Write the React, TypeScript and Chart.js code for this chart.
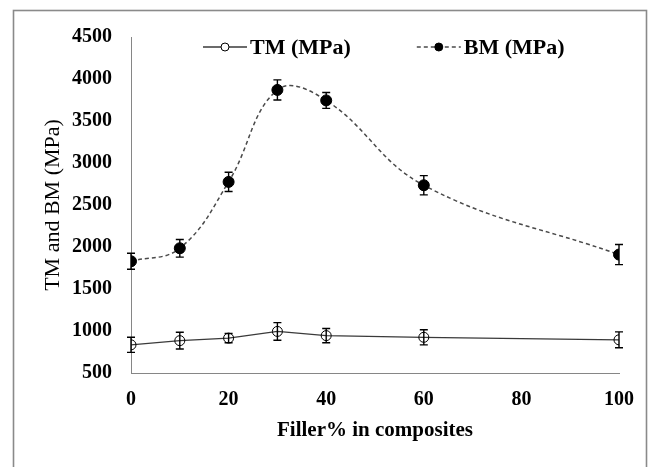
import { useEffect, useRef } from "react";
import { Chart, registerables } from "chart.js";

Chart.register(...registerables);

// ---- data ----
const fillerPct = [0, 10, 20, 30, 40, 60, 100];
const tmValues = [835, 885, 915, 995, 945, 925, 895];
const tmErrors = [90, 100, 55, 105, 85, 90, 95];
const bmValues = [1830, 1985, 2775, 3870, 3745, 2735, 1910];
const bmErrors = [95, 105, 115, 120, 95, 115, 120];
const seriesLabels = ["TM (MPa)", "BM (MPa)"];
const xTitle = "Filler% in composites";
const yTitle = "TM and BM (MPa)";
const xTicks = { min: 0, max: 100, step: 20 };
const yTicks = { min: 500, max: 4500, step: 500 };

const FONT = "'Liberation Serif', 'Times New Roman', serif";
const W = 649;
const H = 467;

const errorBarPlugin = {
  id: "errorBars",
  afterDatasetsDraw(chart: any) {
    const ctx = chart.ctx;
    const yScale = chart.scales.y;
    chart.data.datasets.forEach((ds: any, di: number) => {
      const meta = chart.getDatasetMeta(di);
      const errs: number[] = ds.errors || [];
      ctx.save();
      ctx.strokeStyle = "#000";
      ctx.lineWidth = 1.4;
      ctx.setLineDash([]);
      meta.data.forEach((pt: any, i: number) => {
        const v = ds.data[i].y;
        const e = errs[i] || 0;
        const x = pt.x;
        const yTop = yScale.getPixelForValue(v + e);
        const yBot = yScale.getPixelForValue(v - e);
        ctx.beginPath();
        ctx.moveTo(x, yTop);
        ctx.lineTo(x, yBot);
        ctx.moveTo(x - 4, yTop);
        ctx.lineTo(x + 4, yTop);
        ctx.moveTo(x - 4, yBot);
        ctx.lineTo(x + 4, yBot);
        ctx.stroke();
      });
      ctx.restore();
    });
  },
};

const frameAndLegendPlugin = {
  id: "frameLegend",
  beforeDraw(chart: any) {
    const ctx = chart.ctx;
    ctx.save();
    ctx.fillStyle = "#fff";
    ctx.fillRect(0, 0, chart.width, chart.height);
    ctx.strokeStyle = "#8a8a8a";
    ctx.lineWidth = 1.6;
    ctx.strokeRect(13.5, 10.5, 633, 480);
    ctx.restore();
  },
  afterDraw(chart: any) {
    const ctx = chart.ctx;
    ctx.save();
    const legendY = 47;
    let x = 203;
    const symW = 44;
    ctx.font = `bold 22px ${FONT}`;
    ctx.textBaseline = "middle";
    ctx.textAlign = "left";
    chart.data.datasets.forEach((ds: any) => {
      ctx.strokeStyle = ds.borderColor;
      ctx.lineWidth = ds.borderWidth;
      ctx.setLineDash(ds.borderDash || []);
      ctx.beginPath();
      ctx.moveTo(x, legendY);
      ctx.lineTo(x + symW, legendY);
      ctx.stroke();
      ctx.setLineDash([]);
      ctx.beginPath();
      ctx.arc(x + symW / 2, legendY, 4, 0, Math.PI * 2);
      ctx.fillStyle = ds.pointBackgroundColor === "transparent" ? "#fff" : ds.pointBackgroundColor;
      ctx.fill();
      ctx.strokeStyle = "#000";
      ctx.lineWidth = 1;
      ctx.stroke();
      ctx.fillStyle = "#000";
      const tx = x + symW + 3;
      ctx.fillText(ds.label, tx, legendY + 1);
      x = tx + ctx.measureText(ds.label).width + 66;
    });
    ctx.restore();
  },
};

export default function App() {
  const canvasRef = useRef<HTMLCanvasElement | null>(null);

  useEffect(() => {
    if (!canvasRef.current) return;
    const chart = new Chart(canvasRef.current, {
      type: "line",
      data: {
        datasets: [
          {
            label: seriesLabels[0],
            data: fillerPct.map((x, i) => ({ x, y: tmValues[i] })),
            errors: tmErrors,
            borderColor: "#3a3a3a",
            borderWidth: 1.3,
            pointRadius: 5,
            pointBackgroundColor: "transparent",
            pointBorderColor: "#000",
            pointBorderWidth: 1,
            tension: 0,
          } as any,
          {
            label: seriesLabels[1],
            data: fillerPct.map((x, i) => ({ x, y: bmValues[i] })),
            errors: bmErrors,
            borderColor: "#4a4a4a",
            borderWidth: 1.5,
            borderDash: [4, 3],
            pointRadius: 5.5,
            pointBackgroundColor: "#000",
            pointBorderColor: "#000",
            pointBorderWidth: 1,
            tension: 0.4,
          } as any,
        ],
      },
      options: {
        animation: false,
        responsive: false,
        devicePixelRatio: 1,
        layout: { padding: { left: 0, right: 28, top: 37, bottom: 0 } },
        plugins: {
          legend: { display: false },
          tooltip: { enabled: false },
        },
        scales: {
          x: {
            type: "linear",
            min: xTicks.min,
            max: xTicks.max,
            afterFit: (s: any) => {
              s.height = 94;
            },
            ticks: {
              stepSize: xTicks.step,
              padding: 15,
              color: "#000",
              font: { family: FONT, size: 20, weight: "bold" },
              maxRotation: 0,
              callback: (v: any) => String(v),
            },
            grid: { display: false, drawTicks: false },
            border: { display: true, color: "#868686", width: 1 },
            title: {
              display: true,
              text: xTitle,
              color: "#000",
              font: { family: FONT, size: 21, weight: "bold" },
              padding: { top: 0, bottom: 24 },
            },
          },
          y: {
            type: "linear",
            min: yTicks.min,
            max: yTicks.max,
            afterFit: (s: any) => {
              s.width = 131;
            },
            ticks: {
              stepSize: yTicks.step,
              padding: 19,
              color: "#000",
              font: { family: FONT, size: 20, weight: "bold" },
              callback: (v: any) => String(v),
            },
            grid: { display: false, drawTicks: false },
            border: { display: true, color: "#868686", width: 1 },
            title: {
              display: true,
              text: yTitle,
              color: "#000",
              font: { family: FONT, size: 22, weight: "normal" },
              padding: { top: 40, bottom: 0 },
            },
          },
        },
      } as any,
      plugins: [frameAndLegendPlugin, errorBarPlugin],
    });
    return () => chart.destroy();
  }, []);

  return (
    <div style={{ position: "absolute", left: 0, top: 0, width: W, height: H }}>
      <canvas ref={canvasRef} width={W} height={H} style={{ display: "block", width: W, height: H }} />
    </div>
  );
}
